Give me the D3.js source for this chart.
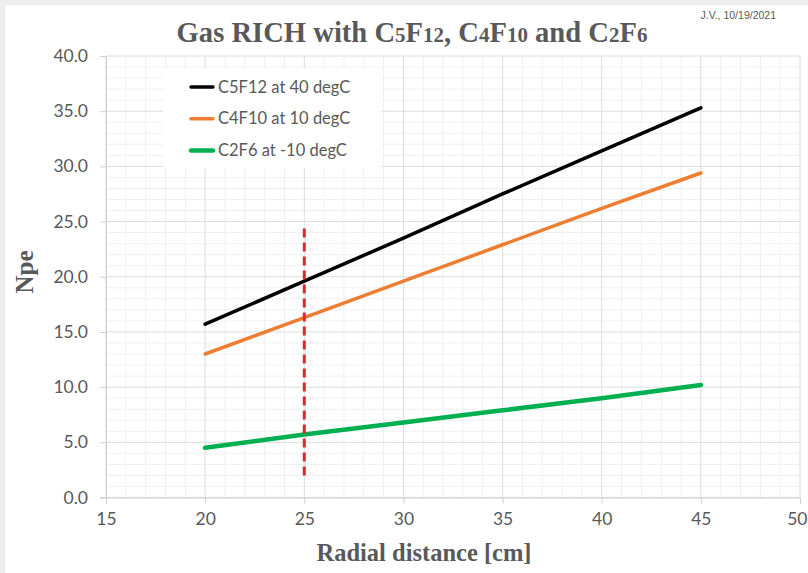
<!DOCTYPE html>
<html>
<head>
<meta charset="utf-8">
<script src="https://cdnjs.cloudflare.com/ajax/libs/d3/7.8.5/d3.min.js"></script>
<style>
  body { margin: 0; background: #fff; }
  text { fill: #595959; }
</style>
</head>
<body>
<svg id="chart"></svg>
<script>
// data
const radius = [20, 25, 30, 35, 40, 45];
const c5f12 = [15.7, 19.6, 23.5, 27.5, 31.4, 35.3];
const c4f10 = [13.0, 16.3, 19.6, 22.9, 26.2, 29.4];
const c2f6 = [4.5, 5.7, 6.8, 7.9, 9.0, 10.2];
const seriesNames = ["C5F12 at 40 degC", "C4F10 at 10 degC", "C2F6 at -10 degC"];
const seriesColors = ["#000000", "#ed7d31", "#00b050"];
const seriesWidths = [3.5, 3.5, 4.5];
const cutX = 25;
const cutY = [2.0, 24.5];
const xTicks = [15, 20, 25, 30, 35, 40, 45, 50];
const yTicks = [0, 5, 10, 15, 20, 25, 30, 35, 40];

const W = 808, H = 573;
const margin = { top: 56, right: 8, bottom: 75.5, left: 106 };
const width = W - margin.left - margin.right;
const height = H - margin.top - margin.bottom;

const svg = d3.select('#chart').attr('width', W).attr('height', H);

// light frame of the screenshot
svg.append('rect').attr('width', W).attr('height', H).attr('fill', '#eeeeee');
svg.append('rect').attr('x', 5).attr('y', 5).attr('width', W - 5).attr('height', H - 5).attr('fill', '#fff');

const chart = svg.append('g').attr('transform', `translate(${margin.left},${margin.top})`);

const xScale = d3.scaleLinear().domain([15, 50]).range([0, width]);
const yScale = d3.scaleLinear().domain([0, 40]).range([height, 0]);

// minor grid
chart.append('g').selectAll('line')
  .data(d3.range(16, 50, 1).filter(v => v % 5 !== 0))
  .join('line')
    .attr('x1', d => xScale(d)).attr('x2', d => xScale(d))
    .attr('y1', 0).attr('y2', height)
    .attr('stroke', '#f0f0f0').attr('stroke-width', 1);
chart.append('g').selectAll('line')
  .data(d3.range(1, 40, 1).filter(v => v % 5 !== 0))
  .join('line')
    .attr('x1', 0).attr('x2', width)
    .attr('y1', d => yScale(d)).attr('y2', d => yScale(d))
    .attr('stroke', '#f0f0f0').attr('stroke-width', 1);

// major grid
chart.append('g').selectAll('line')
  .data(xTicks)
  .join('line')
    .attr('x1', d => xScale(d)).attr('x2', d => xScale(d))
    .attr('y1', 0).attr('y2', height)
    .attr('stroke', '#dcdcdc').attr('stroke-width', 1);
chart.append('g').selectAll('line')
  .data(yTicks)
  .join('line')
    .attr('x1', 0).attr('x2', width)
    .attr('y1', d => yScale(d)).attr('y2', d => yScale(d))
    .attr('stroke', '#dcdcdc').attr('stroke-width', 1);

// axes
const xAxis = d3.axisBottom(xScale).tickValues(xTicks).tickSize(6).tickPadding(9).tickFormat(d3.format('d'));
const yAxis = d3.axisLeft(yScale).tickValues(yTicks).tickSize(6).tickPadding(12).tickFormat(d3.format('.1f'));

const xg = chart.append('g').attr('transform', `translate(0,${height})`).call(xAxis);
const yg = chart.append('g').call(yAxis);
[xg, yg].forEach(g => {
  g.attr('font-size', 17.5).attr('font-family', 'Lato, sans-serif');
  g.select('.domain').attr('stroke', '#d0d0d0');
  g.selectAll('.tick line').attr('stroke', '#d0d0d0');
  g.selectAll('.tick text').attr('fill', '#595959');
});
// last label sits against the right edge
xg.selectAll('.tick text').filter(d => d === 50).attr('text-anchor', 'end').attr('dx', 7);

// legend box
const legend = chart.append('g').attr('transform', 'translate(57,12)');
legend.append('rect').attr('width', 218).attr('height', 100).attr('fill', '#fff');
seriesNames.forEach((name, i) => {
  const y = 19 + i * 31.7;
  legend.append('line')
    .attr('x1', 28).attr('x2', 50).attr('y1', y).attr('y2', y)
    .attr('stroke', seriesColors[i]).attr('stroke-width', seriesWidths[i])
    .attr('stroke-linecap', 'round');
  legend.append('text')
    .attr('x', 55).attr('y', y).attr('dy', '0.35em')
    .attr('font-family', 'Lato, sans-serif').attr('font-size', 16.5)
    .text(name);
});

// series
const line = d3.line().x(d => xScale(d[0])).y(d => yScale(d[1]));
[c5f12, c4f10, c2f6].forEach((vals, i) => {
  chart.append('path')
    .datum(radius.map((r, j) => [r, vals[j]]))
    .attr('d', line)
    .attr('fill', 'none')
    .attr('stroke', seriesColors[i])
    .attr('stroke-width', seriesWidths[i])
    .attr('stroke-linecap', 'round');
});

// red dashed marker at 25 cm
chart.append('line')
  .attr('x1', xScale(cutX)).attr('x2', xScale(cutX))
  .attr('y1', yScale(cutY[0])).attr('y2', yScale(cutY[1]))
  .attr('stroke', '#e3262b').attr('stroke-width', 3)
  .attr('stroke-dasharray', '9,5');

// title, squeezed horizontally like the original
const titleG = svg.append('g');
const title = titleG.append('text')
  .attr('x', 0).attr('y', 0)
  .attr('text-anchor', 'middle')
  .attr('font-family', '"Liberation Serif", "Times New Roman", serif')
  .attr('font-weight', 'bold')
  .attr('font-size', 30);
const parts = [["Gas RICH with C", 0], ["5", 1], ["F", 0], ["12", 1], [", C", 0], ["4", 1], ["F", 0], ["10", 1], [" and C", 0], ["2", 1], ["F", 0], ["6", 1]];
parts.forEach(([t, sub]) => {
  title.append('tspan').attr('font-size', sub ? 22 : 30).text(t);
});
const tw = title.node().getComputedTextLength();
titleG.attr('transform', `translate(412,42) scale(${471 / tw},1)`);

svg.append('text')
  .attr('x', 776).attr('y', 19)
  .attr('text-anchor', 'end')
  .attr('font-family', '"Liberation Sans Narrow", "Liberation Sans", sans-serif')
  .attr('font-size', 10.5)
  .text('J.V., 10/19/2021');

// axis titles
svg.append('text')
  .attr('x', 424).attr('y', 561)
  .attr('text-anchor', 'middle')
  .attr('font-family', '"Liberation Serif", "Times New Roman", serif')
  .attr('font-weight', 'bold')
  .attr('font-size', 24.5)
  .text('Radial distance [cm]');

svg.append('text')
  .attr('transform', 'translate(33,272) rotate(-90)')
  .attr('text-anchor', 'middle')
  .attr('font-family', '"Liberation Serif", "Times New Roman", serif')
  .attr('font-weight', 'bold')
  .attr('font-size', 25)
  .text('Npe');
</script>
</body>
</html>
